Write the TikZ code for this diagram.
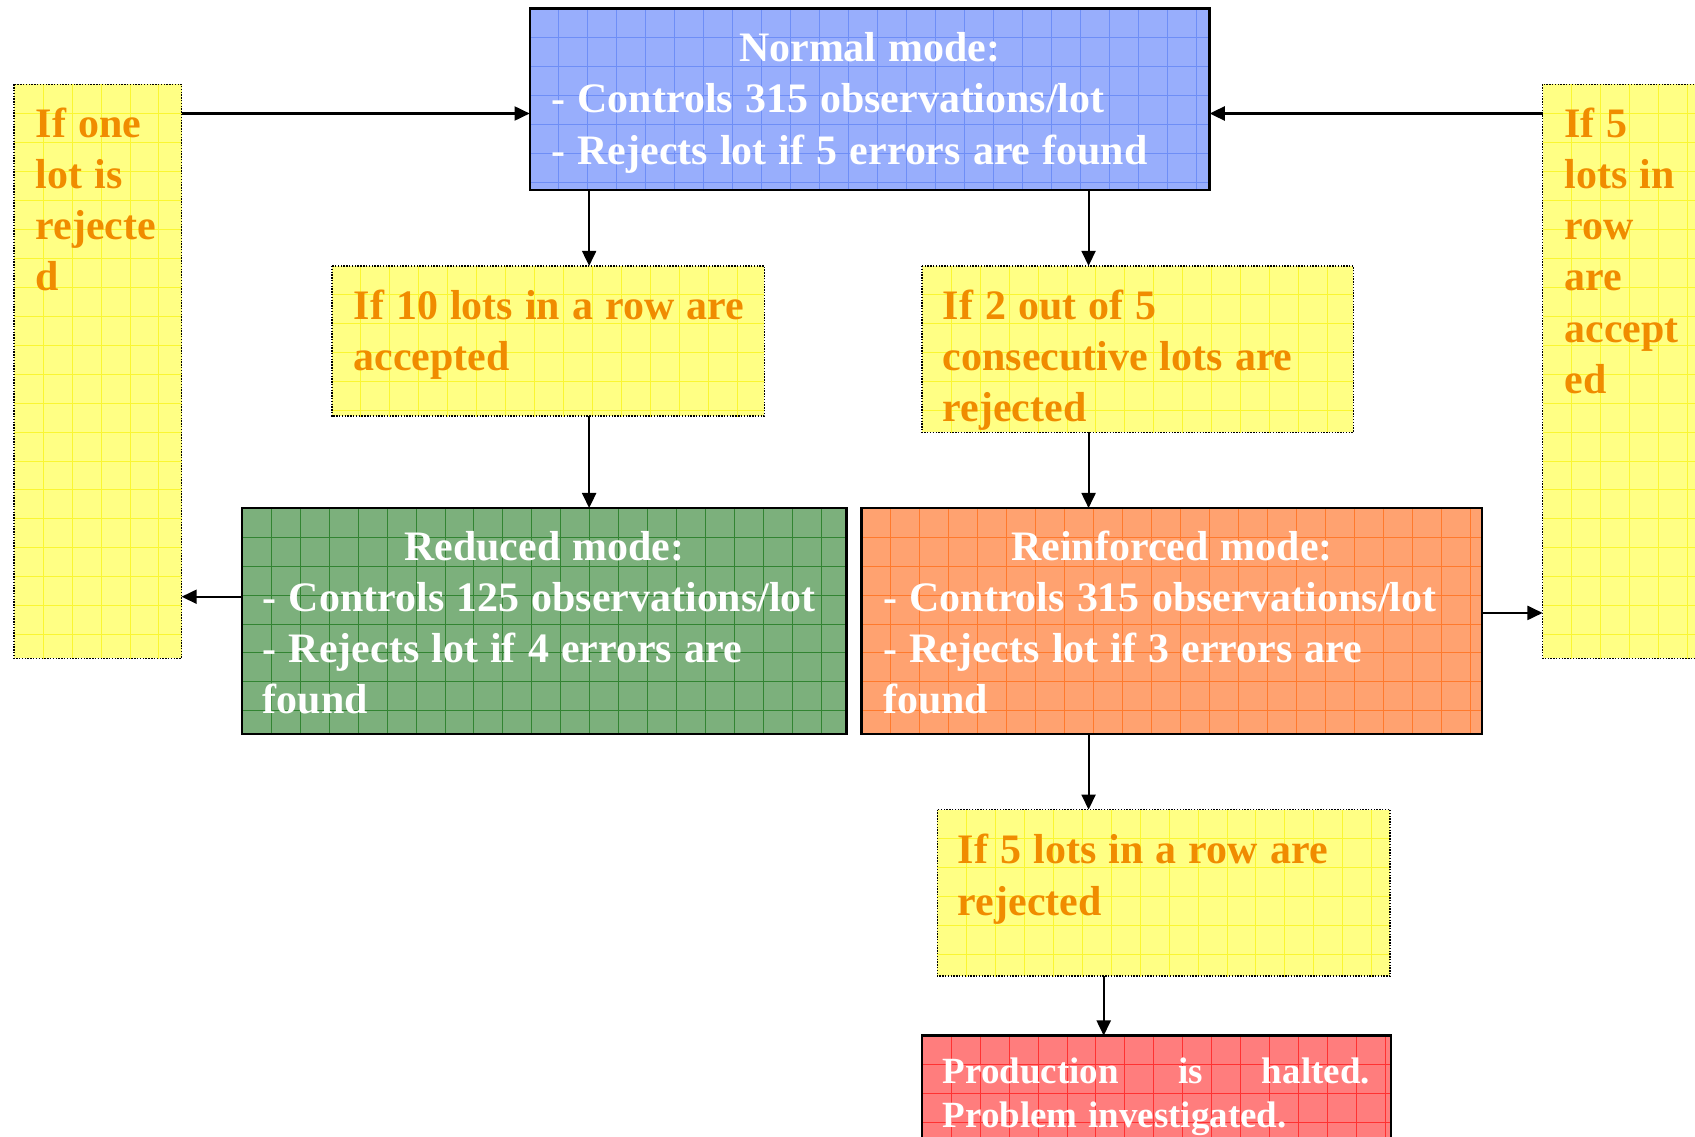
\documentclass[tikz,border=0pt]{standalone}
\usepackage{fontspec}
\setmainfont{Liberation Serif}
\usetikzlibrary{arrows.meta}
\definecolor{blueF}{RGB}{152,174,252}
\definecolor{blueG}{RGB}{110,142,246}
\definecolor{yelF}{RGB}{255,255,132}
\definecolor{yelG}{RGB}{250,246,50}
\definecolor{grnF}{RGB}{124,176,124}
\definecolor{grnG}{RGB}{50,132,50}
\definecolor{oraF}{RGB}{255,162,112}
\definecolor{oraG}{RGB}{255,122,45}
\definecolor{redF}{RGB}{255,125,125}
\definecolor{redG}{RGB}{255,50,50}
\definecolor{oraT}{RGB}{240,140,0}
\newcommand\tsp{\noindent\spaceskip=0.29em\relax}
\newcommand\boxgrid[2]{%
  \begin{scope}
    \clip (#1.north west) rectangle (#1.south east);
    \begin{scope}[shift={(#1.north west)}]
      \foreach \g in {26.8,53.6,...,780} {
        \draw[#2, line width=0.8pt] (\g,0) -- (\g,700);
        \draw[#2, line width=0.8pt] (0,\g) -- (800,\g);
      }
    \end{scope}
  \end{scope}}
\begin{document}
\begin{tikzpicture}[x=1pt,y=-1pt,
  bx/.style={rectangle, inner sep=0pt, outer sep=0pt, draw=none},
  modeline/.style={draw=black, line width=2.2pt},
  dotline/.style={draw=black, line width=1.3pt, dash pattern=on 1.3pt off 1.3pt},
  wtext/.style={anchor=north west, inner sep=0pt, align=left, text=white, text width=760pt,
    font=\fontsize{38.8}{47.3}\selectfont\bfseries},
  otext/.style={anchor=north west, inner sep=0pt, align=left, text=oraT, text width=560pt,
    font=\fontsize{38.8}{47.3}\selectfont\bfseries},
  rtext/.style={anchor=north west, inner sep=0pt, align=left, text=white,
    font=\fontsize{34.2}{40.5}\selectfont\bfseries},
  arr/.style={draw=black, line width=1.9pt, -{Triangle[length=14pt,width=13pt]}}]
\useasboundingbox (0,0) rectangle (1568,1051);
\clip (0,0) rectangle (1568,1051);

% boxes
\node[bx, fill=blueF, minimum width=629pt, minimum height=168pt] (normal) at (804.5,92) {};
\node[bx, fill=yelF, minimum width=155pt, minimum height=531pt] (left) at (90.5,343.5) {};
\node[bx, fill=yelF, minimum width=163pt, minimum height=531pt] (right) at (1508.5,343.5) {};
\node[bx, fill=yelF, minimum width=400pt, minimum height=139pt] (yten) at (507,315.5) {};
\node[bx, fill=yelF, minimum width=399pt, minimum height=154pt] (ytwo) at (1052.5,323) {};
\node[bx, fill=grnF, minimum width=559pt, minimum height=209pt] (reduced) at (503.5,574.5) {};
\node[bx, fill=oraF, minimum width=574pt, minimum height=209pt] (reinf) at (1084,574.5) {};
\node[bx, fill=yelF, minimum width=419pt, minimum height=154pt] (yfive) at (1076.5,826) {};
\node[bx, fill=redF, minimum width=434pt, minimum height=112pt] (halt) at (1070,1014) {};

\boxgrid{normal}{blueG}
\boxgrid{left}{yelG}
\boxgrid{right}{yelG}
\boxgrid{yten}{yelG}
\boxgrid{ytwo}{yelG}
\boxgrid{reduced}{grnG}
\boxgrid{reinf}{oraG}
\boxgrid{yfive}{yelG}
\boxgrid{halt}{redG}

\draw[modeline] (normal.north west) rectangle (normal.south east);
\draw[modeline] (reduced.north west) rectangle (reduced.south east);
\draw[modeline] (reinf.north west) rectangle (reinf.south east);
\draw[modeline] (halt.north west) rectangle (halt.south east);
\draw[dotline] (left.north west) rectangle (left.south east);
\draw[dotline] (right.north west) rectangle (right.south east);
\draw[dotline] (yten.north west) rectangle (yten.south east);
\draw[dotline] (ytwo.north west) rectangle (ytwo.south east);
\draw[dotline] (yfive.north west) rectangle (yfive.south east);

% texts
\node[wtext] (normalT) at (510,22)
  {\tsp\rule{0pt}{35pt}\makebox[589pt]{Normal mode:}\\- Controls 315 observations/lot\\- Rejects lot if 5 errors are found};
\node[wtext] (reducedT) at (243,483)
  {\tsp\rule{0pt}{35pt}\makebox[521pt]{Reduced mode:}\\- Controls 125 observations/lot\\- Rejects lot if 4 errors are\\found};
\node[wtext] (reinfT) at (817,483)
  {\tsp\rule{0pt}{35pt}\makebox[534pt]{Reinforced mode:}\\- Controls 315 observations/lot\\- Rejects lot if 3 errors are\\found};
\node[otext] (leftT) at (33,92)
  {\tsp\rule{0pt}{35pt}If one\\lot is\\rejecte\\d};
\node[otext] (rightT) at (1447,92)
  {\tsp\rule{0pt}{35pt}If 5\\lots in\\row\\are\\accept\\ed};
\node[otext] (ytenT) at (327,260)
  {\tsp\rule{0pt}{35pt}If 10 lots in a row are\\accepted};
\node[otext] (ytwoT) at (872,260)
  {\tsp\rule{0pt}{35pt}If 2 out of 5\\consecutive lots are\\rejected};
\node[otext] (yfiveT) at (886,764)
  {\tsp\rule{0pt}{35pt}If 5 lots in a row are\\rejected};
\node[rtext, text width=395pt] (haltT) at (872,972)
  {\tsp\rule{0pt}{30pt}Production\hfill is\hfill halted.\\Problem investigated.};

% connectors
\coordinate (rowA) at (0,105);
\coordinate (rowB) at (0,552);
\coordinate (rowC) at (0,567);
\coordinate (colA) at (545,0);
\coordinate (colB) at (1007,0);
\coordinate (colC) at (1021,0);
\draw[arr] (left.east |- rowA) -- (normal.west |- rowA);
\draw[arr] (right.west |- rowA) -- (normal.east |- rowA);
\draw[arr] (normal.south -| colA) -- (yten.north -| colA);
\draw[arr] (normal.south -| colB) -- (ytwo.north -| colB);
\draw[arr] (yten.south -| colA) -- (reduced.north -| colA);
\draw[arr] (ytwo.south -| colB) -- (reinf.north -| colB);
\draw[arr] (reduced.west |- rowB) -- (left.east |- rowB);
\draw[arr] (reinf.east |- rowC) -- (right.west |- rowC);
\draw[arr] (reinf.south -| colB) -- (yfive.north -| colB);
\draw[arr] (yfive.south -| colC) -- (halt.north -| colC);
\end{tikzpicture}
\end{document}
